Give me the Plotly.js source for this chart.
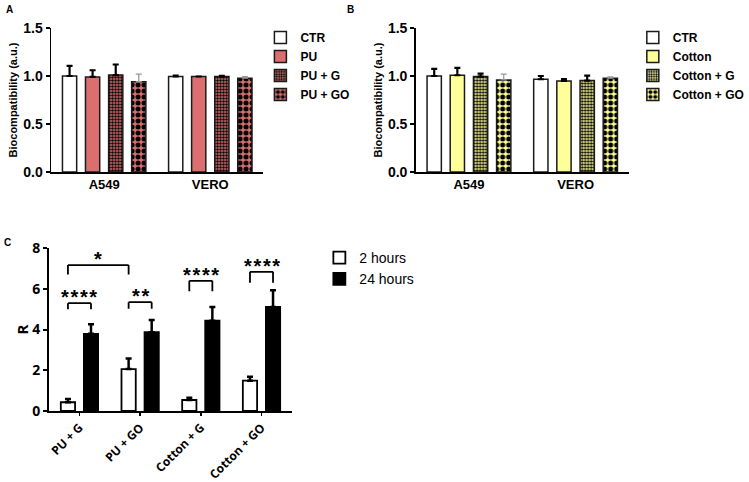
<!DOCTYPE html>
<html>
<head>
<meta charset="utf-8">
<script src="https://cdn.plot.ly/plotly-3.0.1.min.js"></script>
<style>html,body{margin:0;padding:0;background:#fff;}#chart{width:749px;height:482px;}</style>
</head>
<body>
<div id="chart"></div>
<script>
// ---------- DATA ----------
const cellLines = ['A549', 'VERO'];

// Panel A (PU)
const puNames = ['CTR', 'PU', 'PU + G', 'PU + GO'];
const puCTR = [1.00, 0.995];  const puCTRErr = [0.105, 0.008];
const puPU  = [0.99, 0.995];  const puPUErr  = [0.07, 0.0];
const puG   = [1.01, 0.994];  const puGErr   = [0.11, 0.008];
const puGO  = [0.94, 0.977];  const puGOErr  = [0.08, 0.015];

// Panel B (Cotton)
const ctNames = ['CTR', 'Cotton', 'Cotton + G', 'Cotton + GO'];
const ctCTR    = [1.00, 0.966];  const ctCTRErr    = [0.074, 0.034];
const ctCotton = [1.008, 0.949]; const ctCottonErr = [0.077, 0.02];
const ctG      = [0.994, 0.952]; const ctGErr      = [0.031, 0.052];
const ctGO     = [0.959, 0.977]; const ctGOErr     = [0.06, 0.013];

// Panel C (R)
const rCats = ['PU + G', 'PU + GO', 'Cotton + G', 'Cotton + GO'];
const rNames = ['2 hours', '24 hours'];
const r2h  = [0.43, 2.06, 0.54, 1.49];  const r2hErr  = [0.16, 0.52, 0.11, 0.19];
const r24h = [3.79, 3.87, 4.43, 5.11];  const r24hErr = [0.47, 0.60, 0.67, 0.82];

// Significance brackets in panel C
const sigText   = ['****', '**', '****', '****', '*'];
const sigCatA   = [0, 1, 2, 3, 0];
const sigSerA   = [0, 0, 0, 0, 0];
const sigCatB   = [0, 1, 2, 3, 1];
const sigSerB   = [1, 1, 1, 1, 0];
const sigTop    = [5.29, 5.34, 6.39, 6.83, 7.16];
const sigLegEnd = [5.00, 5.02, 5.88, 6.29, 6.70];

// ---------- STYLE ----------
const PINK = '#DB6F6F';
const YEL = '#FFFF99';
const FONT = 'Liberation Sans, Arial, sans-serif';
const FONTC = 'Open Sans, Liberation Sans, Arial, sans-serif';

const abWidth = 0.134;
const abCenters = [-0.326, -0.109, 0.109, 0.326];
const cWidth = 0.235;
const cCenters = [-0.19, 0.19];

function patt(shape, bg, size, sol) {
  if (!shape) return {shape: ''};
  return {shape: shape, fgcolor: '#000', bgcolor: bg, size: size, solidity: sol, fillmode: 'replace'};
}

function abTrace(y, err, name, idx, fill, pshape, psize, psol, errColor, errThick, xa, ya, leg) {
  return {
    type: 'bar', x: cellLines, y: y, name: name,
    xaxis: xa, yaxis: ya, legend: leg,
    width: abWidth, offset: abCenters[idx] - abWidth / 2,
    marker: {color: fill, line: {color: '#1a1a1a', width: 1.5}, pattern: patt(pshape, fill, psize, psol)},
    error_y: {type: 'data', symmetric: false, array: err, arrayminus: err.map(() => 0),
      color: errColor, thickness: errThick, width: 3},
    hoverinfo: 'skip'
  };
}

const traces = [];
const puFills = ['#ffffff', PINK, PINK, PINK];
const puPat = [null, null, '.', '.'];
const puSize = [0, 0, 3, 6];
const puSol = [0, 0, 0.5, 0.55];
const puY = [puCTR, puPU, puG, puGO];
const puE = [puCTRErr, puPUErr, puGErr, puGOErr];
const errCols = ['#000', '#000', '#000', '#999'];
const errTh = [2.2, 2.2, 2.2, 1.3];
for (let i = 0; i < 4; i++) {
  traces.push(abTrace(puY[i], puE[i], puNames[i], i, puFills[i], puPat[i], puSize[i], puSol[i], errCols[i], errTh[i], 'x', 'y', 'legend'));
}
const ctFills = ['#ffffff', YEL, YEL, YEL];
const ctY = [ctCTR, ctCotton, ctG, ctGO];
const ctE = [ctCTRErr, ctCottonErr, ctGErr, ctGOErr];
for (let i = 0; i < 4; i++) {
  traces.push(abTrace(ctY[i], ctE[i], ctNames[i], i, ctFills[i], puPat[i], puSize[i], puSol[i], errCols[i], errTh[i], 'x2', 'y2', 'legend2'));
}
const rY = [r2h, r24h];
const rE = [r2hErr, r24hErr];
const rFill = ['#ffffff', '#000000'];
for (let i = 0; i < 2; i++) {
  traces.push({
    type: 'bar', x: rCats, y: rY[i], name: rNames[i], xaxis: 'x3', yaxis: 'y3', legend: 'legend3',
    width: cWidth, offset: cCenters[i] - cWidth / 2,
    marker: {color: rFill[i], line: {color: '#000', width: 1.8}},
    error_y: {type: 'data', symmetric: false, array: rE[i], arrayminus: rE[i].map(() => 0),
      color: '#000', thickness: 2.5, width: 3},
    hoverinfo: 'skip'
  });
}

// brackets
const shapes = [];
const annotations = [];
for (let k = 0; k < sigText.length; k++) {
  const xa = sigCatA[k] + cCenters[sigSerA[k]];
  const xb = sigCatB[k] + cCenters[sigSerB[k]];
  const ln = {color: '#000', width: 1.8};
  shapes.push({type: 'line', xref: 'x3', yref: 'y3', x0: xa, x1: xb, y0: sigTop[k], y1: sigTop[k], line: ln});
  shapes.push({type: 'line', xref: 'x3', yref: 'y3', x0: xa, x1: xa, y0: sigTop[k], y1: sigLegEnd[k], line: ln});
  shapes.push({type: 'line', xref: 'x3', yref: 'y3', x0: xb, x1: xb, y0: sigTop[k], y1: sigLegEnd[k], line: ln});
  annotations.push({xref: 'x3', yref: 'y3', x: (xa + xb) / 2, y: sigTop[k], yanchor: 'bottom', yshift: -7,
    text: sigText[k].split('').join('\u200A'), showarrow: false,
    font: {family: FONT, size: 20, color: '#000', weight: 'bold'}});
}
const panelFont = {family: FONT, size: 10, color: '#000', weight: 'bold'};
annotations.push({xref: 'paper', yref: 'paper', x: 10 / 749, y: 1 - 9 / 482, text: 'A', showarrow: false, font: panelFont, xanchor: 'center', yanchor: 'middle'});
annotations.push({xref: 'paper', yref: 'paper', x: 357 / 749, y: 1 - 9 / 482, text: 'B', showarrow: false, font: panelFont, xanchor: 'center', yanchor: 'middle'});
annotations.push({xref: 'paper', yref: 'paper', x: 8 / 749, y: 1 - 242 / 482, text: 'C', showarrow: false, font: panelFont, xanchor: 'center', yanchor: 'middle'});

const tickFontAB = {family: FONT, size: 14, color: '#000', weight: 'bold'};
const catFontAB = {family: FONT, size: 13, color: '#000', weight: 'bold'};
function yAB(domain) {
  return {domain: domain, range: [0, 1.5], tickvals: [0, 0.5, 1.0, 1.5], tickformat: '.1f',
    ticks: 'outside', ticklen: 4, tickwidth: 1.5, tickcolor: '#000',
    showline: true, linewidth: 1.5, linecolor: '#000', showgrid: false, zeroline: false,
    tickfont: tickFontAB, fixedrange: true,
    title: {text: 'Biocompatibility (a.u.)', font: {family: FONT, size: 11, color: '#000', weight: 'bold'}, standoff: 3}};
}
function xAB(domain, anchor) {
  return {domain: domain, anchor: anchor, type: 'category', range: [-0.5, 1.5],
    showline: true, linewidth: 1.5, linecolor: '#000', showgrid: false, zeroline: false,
    ticks: '', tickfont: catFontAB, fixedrange: true};
}
const abDomY = [(482 - 172) / 482, (482 - 28) / 482];
const legFont = {family: FONT, size: 12, color: '#000', weight: 'bold'};

const layout = {
  width: 749, height: 482,
  margin: {l: 0, r: 0, t: 0, b: 0},
  paper_bgcolor: '#fff', plot_bgcolor: '#fff',
  barmode: 'overlay',
  showlegend: true,
  font: {family: FONT, color: '#000'},
  xaxis: xAB([52 / 749, 268 / 749], 'y'),
  yaxis: yAB(abDomY),
  xaxis2: xAB([423 / 749, 640 / 749], 'y2'),
  yaxis2: Object.assign(yAB(abDomY), {anchor: 'x2'}),
  xaxis3: {domain: [50 / 749, 297 / 749], anchor: 'y3', type: 'category', range: [-0.5, 3.5],
    showline: true, linewidth: 2, linecolor: '#000', showgrid: false, zeroline: false,
    ticks: 'outside', ticklen: 3, tickwidth: 1.5, tickcolor: '#000', tickangle: -45,
    tickfont: {family: FONTC, size: 12, color: '#000', weight: 'bold'}, fixedrange: true},
  yaxis3: {domain: [(482 - 411) / 482, (482 - 248) / 482], anchor: 'x3', range: [0, 8], dtick: 2,
    ticks: 'outside', ticklen: 4, tickwidth: 2, tickcolor: '#000',
    showline: true, linewidth: 2, linecolor: '#000', showgrid: false, zeroline: false,
    tickfont: {family: FONTC, size: 14, color: '#000', weight: 'bold'}, fixedrange: true,
    title: {text: 'R', font: {family: FONTC, size: 15, color: '#000', weight: 'bold'}, standoff: 0}},
  legend: {x: 265 / 749, y: 1 - 23 / 482, xanchor: 'left', yanchor: 'top', font: legFont,
    bgcolor: 'rgba(0,0,0,0)', traceorder: 'normal', itemclick: false},
  legend2: {x: 644 / 749, y: 1 - 23 / 482, xanchor: 'left', yanchor: 'top', font: legFont,
    bgcolor: 'rgba(0,0,0,0)', traceorder: 'normal', itemclick: false},
  legend3: {x: 325 / 749, y: 1 - 242 / 482, xanchor: 'left', yanchor: 'top', tracegroupgap: 0,
    font: {family: FONT, size: 14, color: '#000'}, bgcolor: 'rgba(0,0,0,0)', traceorder: 'normal', itemclick: false},
  shapes: shapes,
  annotations: annotations
};

Plotly.newPlot('chart', traces, layout, {staticPlot: true, displayModeBar: false});
</script>
</body>
</html>
